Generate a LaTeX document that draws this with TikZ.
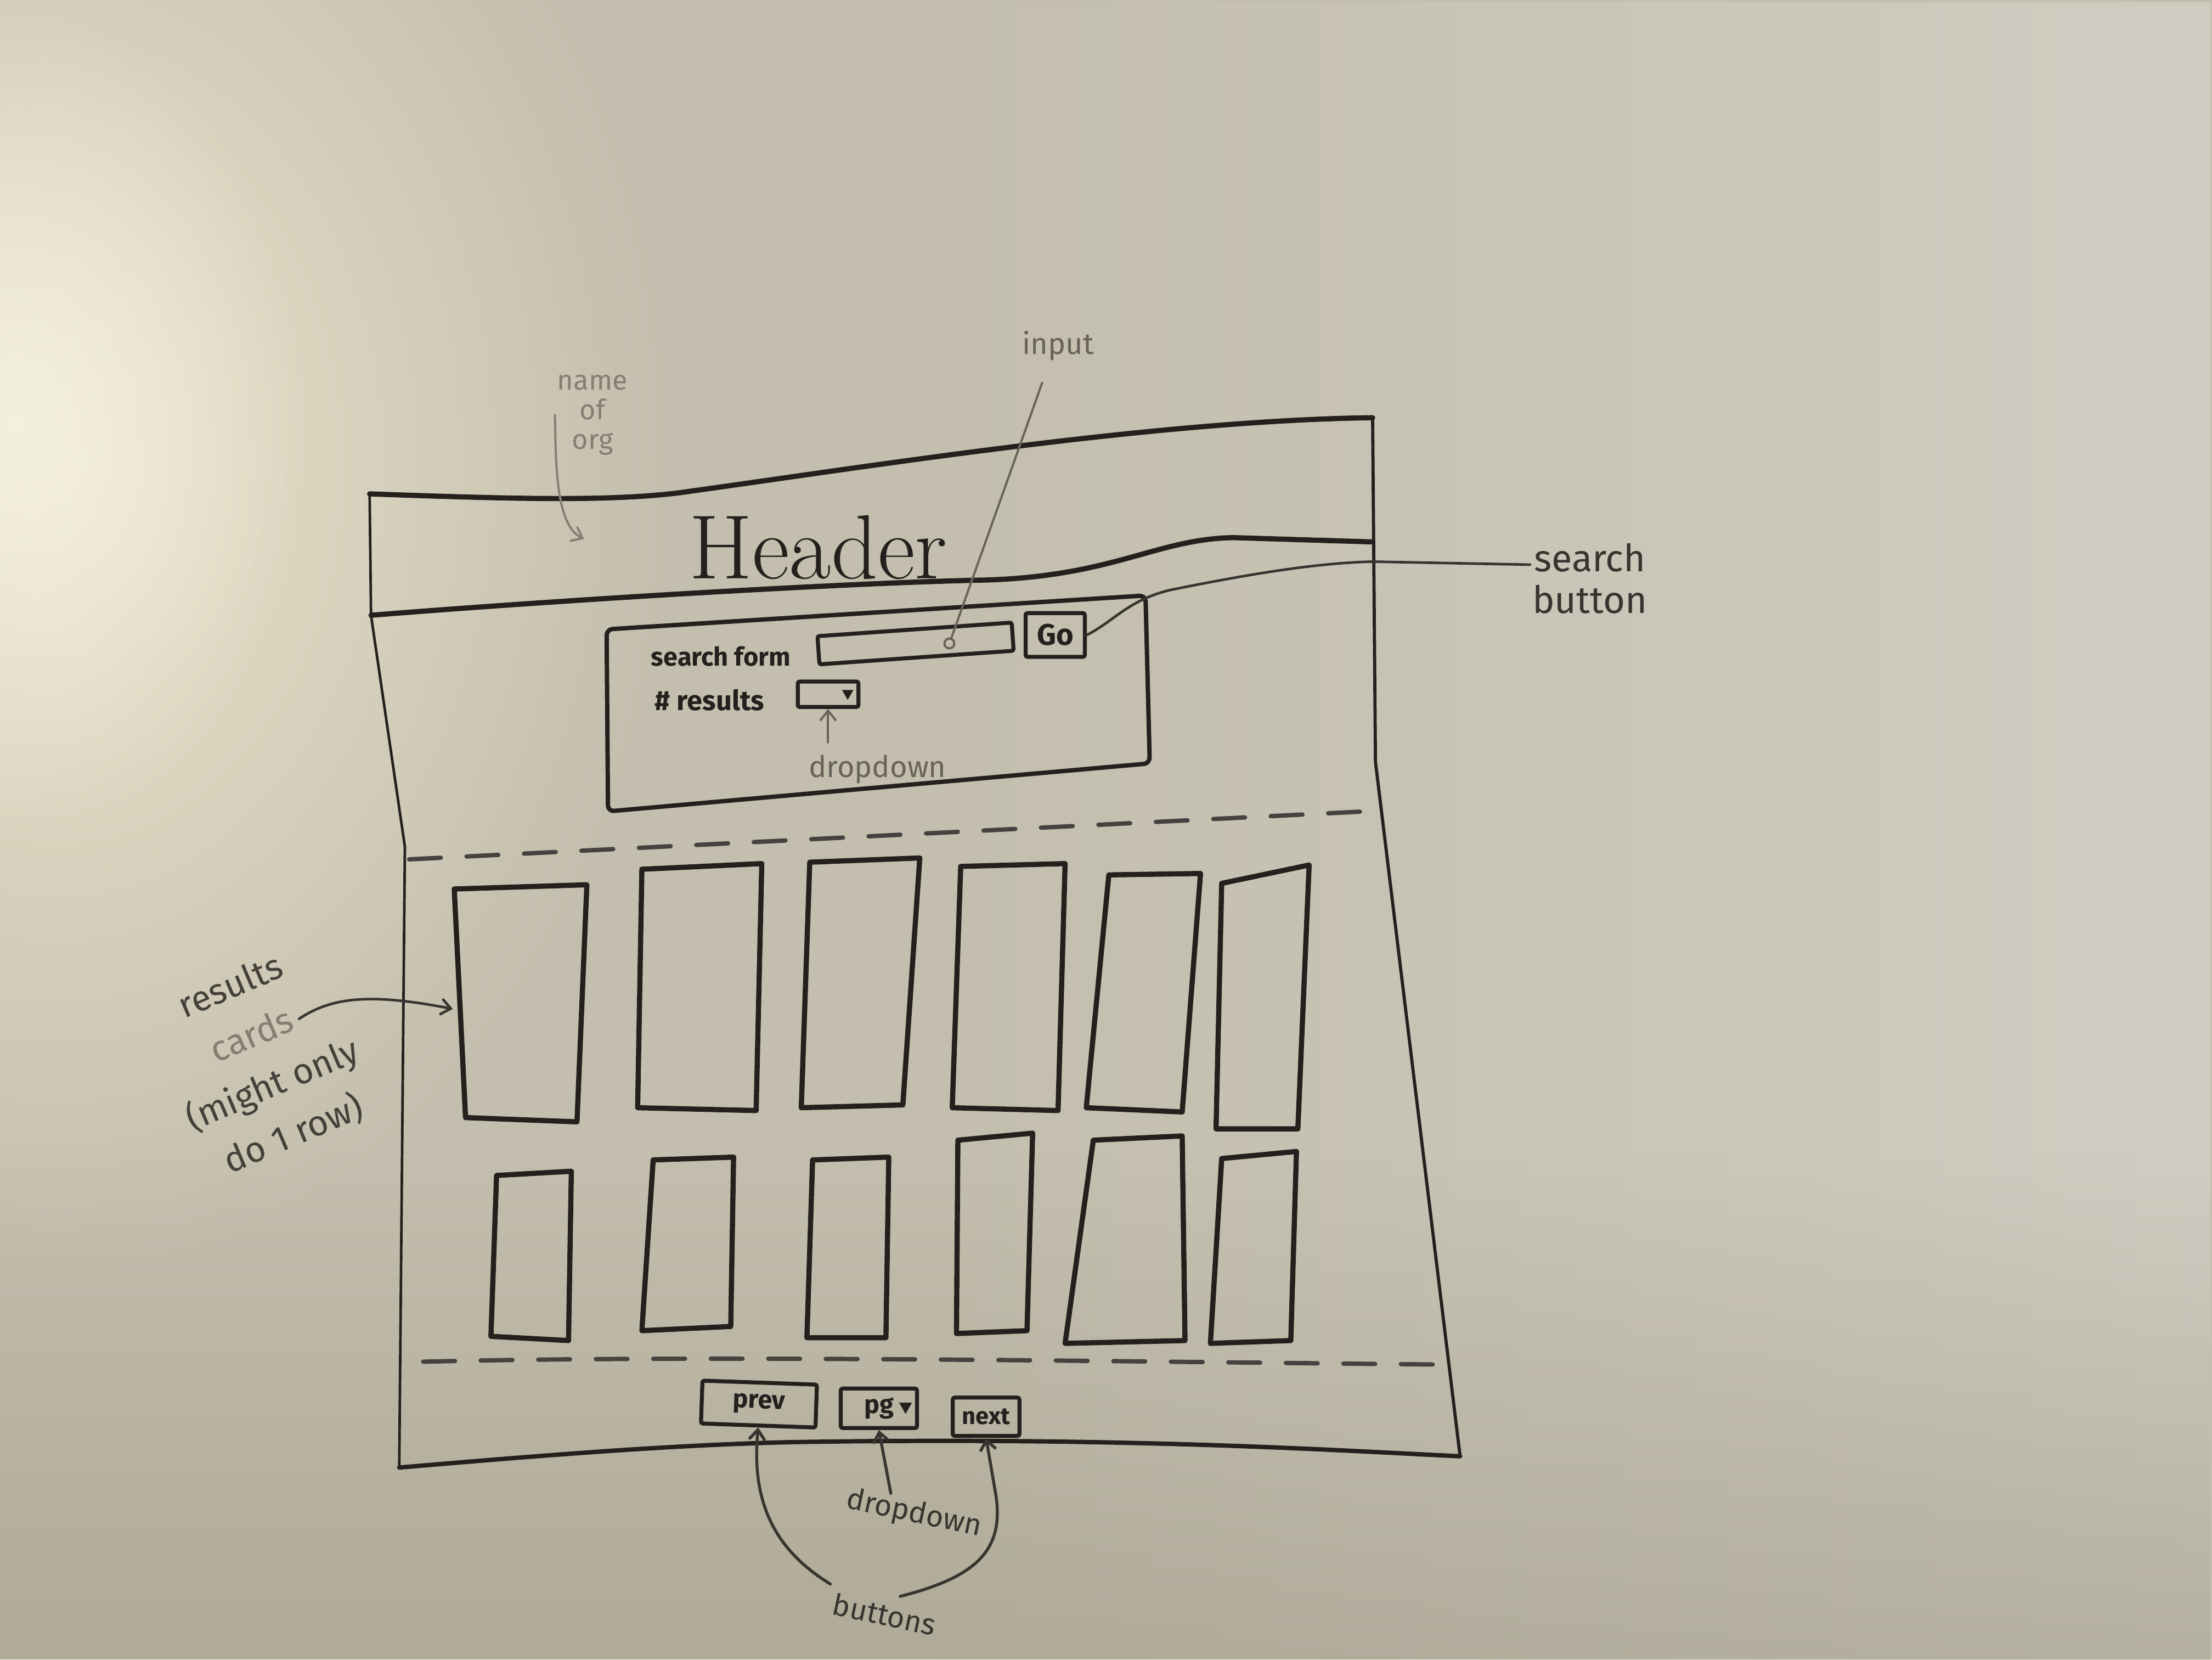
\documentclass[tikz,border=0pt]{standalone}
\usepackage{fontspec}
\newfontfamily\hand{Fira Sans}
\usetikzlibrary{arrows.meta,fadings,calc}

\definecolor{board}{HTML}{C3BEAD}
\definecolor{boardlight}{HTML}{D3D1C8}
\definecolor{boarddark}{HTML}{A39D8A}
\definecolor{glare}{HTML}{F2ECD2}
\definecolor{ink}{HTML}{24201D}
\definecolor{inksoft}{HTML}{3A3430}
\definecolor{pencil}{HTML}{69635B}
\definecolor{faint}{HTML}{847E73}

\tikzfading[name=glowfade, inner color=transparent!0, outer color=transparent!100]

\tikzset{
  frameline/.style={ink, line width=2.2pt, line join=round, line cap=round},
  cardbox/.style={ink, line width=2.6pt, line join=round},
  dashline/.style={ink!85, line width=2.2pt, dash pattern=on 16pt off 13pt, line cap=round},
  uibox/.style={draw=ink, line width=2pt, inner sep=0pt, rounded corners=1pt},
  marker/.style={text=ink, font=\hand\bfseries\fontsize{13}{15}\selectfont},
  note/.style={text=pencil, font=\hand\fontsize{15}{17}\selectfont, inner sep=1pt},
  leader/.style={pencil, line width=1.1pt, line cap=round},
  inkleader/.style={inksoft, line width=1.5pt, line cap=round},
  barb/.style={-{Straight Barb[length=5pt,width=8pt]}},
}

\begin{document}
\begin{tikzpicture}[x=0.25mm,y=-0.25mm]
\useasboundingbox (0,0) rectangle (1568,1176);

% whiteboard surface
\fill[board] (0,0) rectangle (1568,1176);
\fill[boardlight, path fading=west, opacity=0.8] (650,0) rectangle (1568,1176);
\fill[boarddark, path fading=north, opacity=0.6] (0,820) rectangle (1568,1176);
\fill[glare, path fading=glowfade, opacity=0.85] (40,330) ellipse (440 and 580);
\fill[glare!60!white, path fading=glowfade, opacity=0.8] (10,300) ellipse (210 and 300);

% page outline
\draw[frameline, line width=2.6pt] (262,350) .. controls (350,353) and (430,356) .. (483,349)
      .. controls (620,330) and (820,298) .. (973,296);
\draw[frameline, line width=1.3pt] (262,350) -- (263,436) -- (287,600) -- (283,1040);
\draw[frameline, line width=1.6pt] (973,296) -- (975,540) -- (1035,1032);
\draw[frameline] (283,1040) .. controls (400,1030) and (480,1024) .. (560,1022)
      .. controls (800,1018) and (950,1028) .. (1035,1032);

% header band
\draw[frameline, line width=2.6pt] (263,436) .. controls (400,425) and (600,413) .. (700,411)
      .. controls (790,408) and (820,382) .. (874,381) -- (972,384);
\node[text=ink, font=\fontsize{46}{46}\selectfont, inner sep=0pt] (header) at (580,388) {Header};

% search form panel
\draw[frameline, rounded corners=3pt] (430,446) -- (812,422) -- (815,541) -- (431,575) -- cycle;
\node[marker, inner sep=1pt] (sflbl) at (511,465) {search form};
\node[uibox, minimum width=34.5mm, minimum height=5mm, rotate=4] (inputbox) at (649,456) {};
\node[uibox, minimum width=10.5mm, minimum height=7.75mm, marker,
      font=\hand\bfseries\fontsize{15}{15}\selectfont] (go) at (748,450) {Go};
\node[marker, inner sep=1pt, font=\hand\bfseries\fontsize{14}{16}\selectfont] (nrlbl) at (503,496) {\# results};
\node[uibox, minimum width=10.75mm, minimum height=4.5mm] (ddbox) at (587,492) {};
\fill[ink] ($(ddbox.east)+(-13,-3)$) -- ++(8,0) -- ++(-4,7) -- cycle;

% notes around the search form
\node[note] (inputlbl) at (750,245) {input};
\coordinate (inputdot) at (673,456);
\draw[leader] ([xshift=-8pt,yshift=-10pt]inputlbl.south) -- (inputdot);
\draw[leader, fill=board] (inputdot) circle (3.5);

\node[text=inksoft, font=\hand\fontsize{19}{21}\selectfont, align=center, inner sep=1pt] (sbtn) at (1127,410) {search\\button};
\draw[inkleader, line width=1.3pt] (go.east) .. controls (790,440) and (800,425) .. (830,418)
      .. controls (880,408) and (930,399) .. (973,398) -- ([yshift=7pt]sbtn.west);

\node[note] (ddlbl) at (622,545) {dropdown};
\path (ddbox.south |- ddlbl.north) coordinate (ddtail);
\draw[leader, barb] ([yshift=5pt]ddtail) -- (ddbox.south);

\node[note, text=faint, align=center, font=\hand\fontsize{14}{15}\selectfont] (orglbl) at (420,294) {name\\of\\org};
\coordinate (orgtip) at (414,382);
\draw[leader, faint, barb] (orglbl.west) .. controls (394,330) and (394,372) .. (orgtip);

% section separators
\draw[dashline] (290,609) -- (968,575);
\draw[dashline] (300,965) .. controls (500,960) and (800,965) .. (1020,967);

% result cards, first row
\draw[cardbox] (322,630) -- (416,627) -- (409,795) -- (330,792) -- cycle;
\draw[cardbox] (455,616) -- (540,612) -- (536,787) -- (452,785) -- cycle;
\draw[cardbox] (574,611) -- (652,608) -- (640,783) -- (568,785) -- cycle;
\draw[cardbox] (681,614) -- (755,612) -- (750,787) -- (675,785) -- cycle;
\draw[cardbox] (786,620) -- (851,619) -- (838,788) -- (770,785) -- cycle;
\draw[cardbox] (866,626) -- (928,613) -- (920,800) -- (862,800) -- cycle;

% result cards, second row
\draw[cardbox] (352,833) -- (405,830) -- (403,950) -- (348,947) -- cycle;
\draw[cardbox] (463,822) -- (520,820) -- (518,940) -- (455,943) -- cycle;
\draw[cardbox] (576,822) -- (630,820) -- (628,948) -- (572,948) -- cycle;
\draw[cardbox] (679,808) -- (732,803) -- (728,943) -- (678,945) -- cycle;
\draw[cardbox] (775,808) -- (838,805) -- (840,950) -- (755,952) -- cycle;
\draw[cardbox] (866,821) -- (919,816) -- (915,950) -- (858,952) -- cycle;

% note on the cards
\node[text=inksoft!75!pencil, rotate=23, align=center, font=\hand\fontsize{18}{27}\selectfont, inner sep=0pt] (reslbl) at (186,752)
  {results\\\textcolor{faint}{cards}\\(might only\\do 1 row)};
\coordinate (rescurl) at (212,722);
\coordinate (cardin) at (321,715);
\draw[inkleader, line width=1.3pt, barb] (rescurl) .. controls (236,706) and (264,704) .. (cardin);

% paging controls
\node[uibox, minimum width=20.3mm, minimum height=7.6mm, marker, rotate=-2] (prev) at (538,995) {prev};
\node[uibox, minimum width=13.5mm, minimum height=7mm, marker] (pgbtn) at (623,998) {pg\hspace{9pt}};
\fill[ink] ($(pgbtn.east)+(-14,-4)$) -- ++(9,0) -- ++(-4.5,8) -- cycle;
\node[uibox, minimum width=11.8mm, minimum height=6.8mm, marker,
      font=\hand\bfseries\fontsize{12}{14}\selectfont] (next) at (699,1004) {next};

\node[text=inksoft, rotate=-12, font=\hand\fontsize{15}{17}\selectfont] (ddlbl2) at (648,1073) {dropdown};
\node[text=inksoft, rotate=-12, font=\hand\fontsize{15}{17}\selectfont] (btnlbl) at (627,1144) {buttons};

\draw[inkleader, barb] ([xshift=-14pt]ddlbl2.north) -- (pgbtn.south);
\draw[inkleader, barb] (btnlbl.north west) .. controls (552,1100) and (532,1068) .. (prev.south);
\draw[inkleader, barb] ([xshift=6pt]btnlbl.north) .. controls (690,1118) and (712,1100) .. (706,1060) -- (next.south);

\end{tikzpicture}
\end{document}
